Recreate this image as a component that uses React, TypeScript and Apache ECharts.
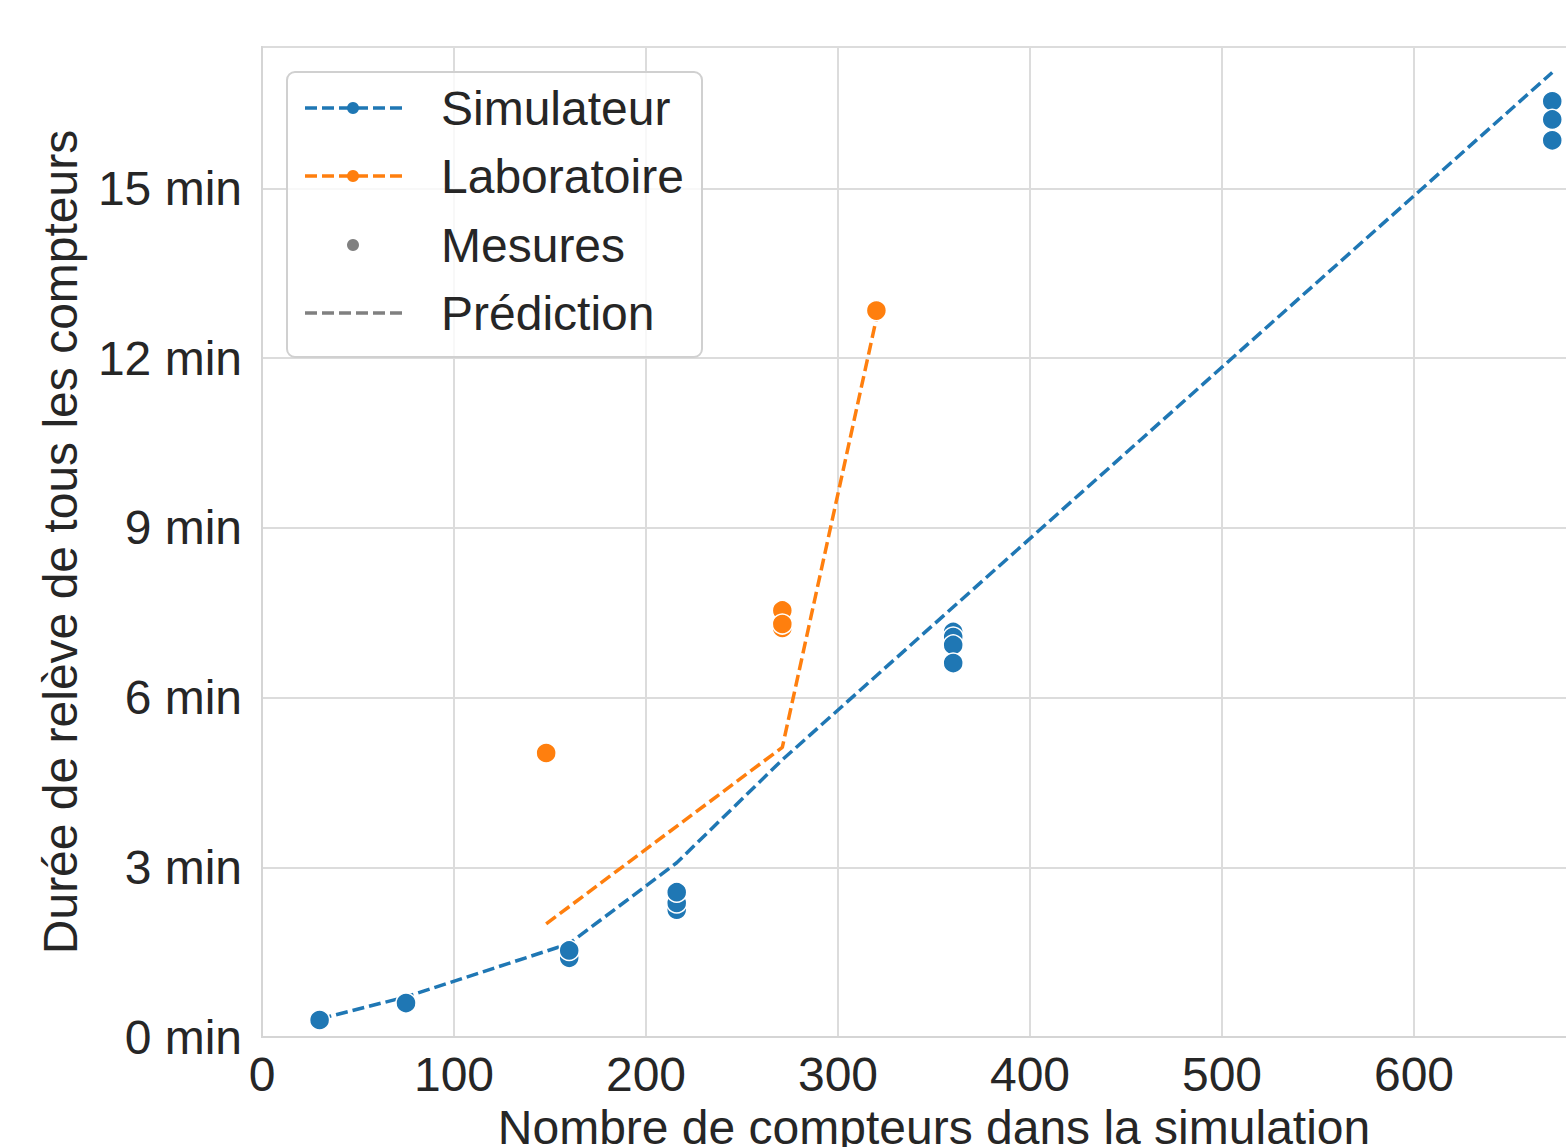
import React, { useEffect, useRef } from "react";
import * as echarts from "echarts";

const simPredX = [30, 75, 160, 216, 271, 360, 672];
const simPredY = [0.32, 0.71, 1.65, 3.08, 4.9, 7.6, 17.05];
const labPredX = [148, 271, 320];
const labPredY = [2.0, 5.12, 12.7];

const simMesX = [30, 75, 160, 160, 216, 216, 216, 360, 360, 360, 360, 672, 672, 672];
const simMesY = [0.3, 0.6, 1.4, 1.53, 2.25, 2.37, 2.56, 7.16, 7.07, 6.93, 6.61, 16.54, 16.22, 15.85];
const labMesX = [148, 271, 271, 271, 320];
const labMesY = [5.02, 7.54, 7.23, 7.3, 12.84];

const xTicks = [0, 100, 200, 300, 400, 500, 600];
const yTicks = [0, 3, 6, 9, 12, 15];

const legendLabels = ["Simulateur", "Laboratoire", "Mesures", "Prédiction"];

const BLUE = "#1f77b4";
const ORANGE = "#ff7f0e";
const GRAY = "#808080";
const TEXT = "#262626";
const FONT = "Liberation Sans, Arial, sans-serif";
const FS = 48;

const zip = (xs: number[], ys: number[]) => xs.map((x, i) => [x, ys[i]]);

export default function App() {
  const ref = useRef<HTMLDivElement>(null);
  useEffect(() => {
    if (!ref.current) return;
    const chart = echarts.init(ref.current, undefined, { renderer: "svg" });
    const dash = [12, 5];
    const legendY = [108, 176, 245, 313];
    const graphics: any[] = [
      {
        type: "rect",
        shape: { x: 287, y: 72, width: 415, height: 285, r: 8 },
        style: { fill: "rgba(255,255,255,0.8)", stroke: "#d0d0d0", lineWidth: 2 },
        z: 100,
      },
      { type: "line", shape: { x1: 305, y1: legendY[0], x2: 402, y2: legendY[0] }, style: { stroke: BLUE, lineWidth: 3.5, lineDash: dash }, z: 101 },
      { type: "circle", shape: { cx: 353, cy: legendY[0], r: 6 }, style: { fill: BLUE }, z: 102 },
      { type: "line", shape: { x1: 305, y1: legendY[1], x2: 402, y2: legendY[1] }, style: { stroke: ORANGE, lineWidth: 3.5, lineDash: dash }, z: 101 },
      { type: "circle", shape: { cx: 353, cy: legendY[1], r: 6 }, style: { fill: ORANGE }, z: 102 },
      { type: "circle", shape: { cx: 353, cy: legendY[2], r: 6 }, style: { fill: GRAY }, z: 102 },
      { type: "line", shape: { x1: 305, y1: legendY[3], x2: 402, y2: legendY[3] }, style: { stroke: GRAY, lineWidth: 3.5, lineDash: dash }, z: 101 },
      ...legendLabels.map((t, i) => ({
        type: "text",
        x: 441,
        y: legendY[i],
        style: { text: t, fill: TEXT, font: `${FS}px ${FONT}`, textVerticalAlign: "middle", textAlign: "left" },
        z: 103,
      })),
    ];
    chart.setOption({
      animation: false,
      backgroundColor: "#ffffff",
      textStyle: { fontFamily: FONT },
      grid: {
        left: 262,
        top: 47,
        right: -40,
        bottom: 110,
        outerBoundsMode: "none",
        containLabel: false,
        show: true,
        borderColor: "#d5d5d5",
        borderWidth: 2,
      },
      xAxis: {
        type: "value",
        min: 0,
        max: 700,
        interval: 100,
        name: "Nombre de compteurs dans la simulation",
        nameLocation: "middle",
        nameGap: 66,
        nameTextStyle: { fontSize: FS, color: TEXT, fontFamily: FONT, verticalAlign: "top" },
        axisLine: { show: true, lineStyle: { color: "#d5d5d5", width: 2 } },
        axisTick: { show: false },
        axisLabel: {
          fontSize: FS,
          color: TEXT,
          margin: 13,
          fontFamily: FONT,
          showMaxLabel: false,
          formatter: (v: number) => (xTicks.includes(v) ? String(v) : ""),
        },
        splitLine: { show: true, lineStyle: { color: "#dcdcdc", width: 2 } },
      },
      yAxis: {
        type: "value",
        min: 0,
        max: 17.5,
        interval: 3,
        name: "Durée de relève de tous les compteurs",
        nameLocation: "middle",
        nameGap: 178,
        nameTextStyle: { fontSize: FS, color: TEXT, fontFamily: FONT },
        axisLine: { show: true, lineStyle: { color: "#d5d5d5", width: 2 } },
        axisTick: { show: false },
        axisLabel: {
          fontSize: FS,
          color: TEXT,
          margin: 20,
          fontFamily: FONT,
          showMaxLabel: false,
          formatter: (v: number) => (yTicks.includes(v) ? `${v} min` : ""),
        },
        splitLine: { show: true, lineStyle: { color: "#dcdcdc", width: 2 } },
      },
      series: [
        {
          type: "line",
          data: zip(simPredX, simPredY),
          showSymbol: false,
          symbol: "none",
          lineStyle: { color: BLUE, width: 3.5, type: dash },
          z: 3,
        },
        {
          type: "line",
          data: zip(labPredX, labPredY),
          showSymbol: false,
          symbol: "none",
          lineStyle: { color: ORANGE, width: 3.5, type: dash },
          z: 3,
        },
        {
          type: "scatter",
          data: zip(simMesX, simMesY),
          symbolSize: 20,
          itemStyle: { color: BLUE, borderColor: "#ffffff", borderWidth: 1.5, opacity: 1 },
          z: 4,
        },
        {
          type: "scatter",
          data: zip(labMesX, labMesY),
          symbolSize: 20,
          itemStyle: { color: ORANGE, borderColor: "#ffffff", borderWidth: 1.5, opacity: 1 },
          z: 4,
        },
      ],
      graphic: graphics,
    });
    return () => chart.dispose();
  }, []);
  return (
    <div
      ref={ref}
      style={{ position: "fixed", left: 0, top: 0, width: 1566, height: 1147, overflow: "hidden" }}
    />
  );
}
